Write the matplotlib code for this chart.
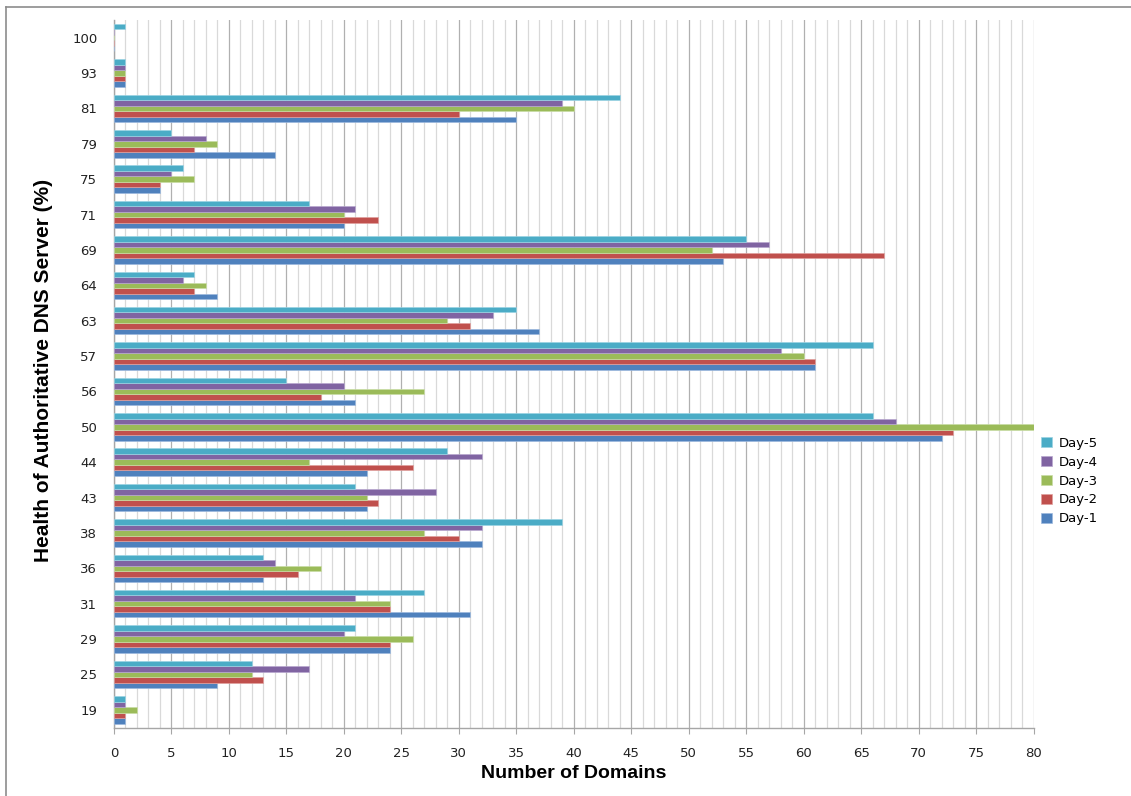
import matplotlib
matplotlib.use("Agg")
import matplotlib.pyplot as plt
import numpy as np
from matplotlib.ticker import MultipleLocator
from matplotlib.lines import Line2D

categories = ["19", "25", "29", "31", "36", "38", "43", "44", "50", "56",
              "57", "63", "64", "69", "71", "75", "79", "81", "93", "100"]
day1 = [1, 9, 24, 31, 13, 32, 22, 22, 72, 21, 61, 37, 9, 53, 20, 4, 14, 35, 1, 0]
day2 = [1, 13, 24, 24, 16, 30, 23, 26, 73, 18, 61, 31, 7, 67, 23, 4, 7, 30, 1, 0]
day3 = [2, 12, 26, 24, 18, 27, 22, 17, 80, 27, 60, 29, 8, 52, 20, 7, 9, 40, 1, 0]
day4 = [1, 17, 20, 21, 14, 32, 28, 32, 68, 20, 58, 33, 6, 57, 21, 5, 8, 39, 1, 0]
day5 = [1, 12, 21, 27, 13, 39, 21, 29, 66, 15, 66, 35, 7, 55, 17, 6, 5, 44, 1, 1]
series_names = ["Day-1", "Day-2", "Day-3", "Day-4", "Day-5"]
series = [day1, day2, day3, day4, day5]
colors = ["#4F81BD", "#C0504D", "#9BBB59", "#8064A2", "#4BACC6"]
edges = ["#9DB9DE", "#E0A09E", "#C9DDA6", "#B8A7CF", "#9BD3E3"]

W, H = 1131, 796
fig = plt.figure(figsize=(W / 100, H / 100), dpi=100)
ax = fig.add_axes([114 / W, 1 - 727.5 / H, (1033.5 - 114) / W, (727.5 - 20) / H])

y = np.arange(len(categories))
bh = 0.155
handles = []
for i, (name, vals, c, ec) in enumerate(zip(series_names, series, colors, edges)):
    offs = (i - 2) * bh
    b = ax.barh(y + offs, vals, height=bh, color=c, edgecolor=ec, linewidth=0.5,
                label=name, zorder=3)
    handles.append(b)

ax.set_xlim(0, 80)
ax.set_ylim(-0.5, len(categories) - 0.5)
ax.set_yticks(y)
ax.set_yticklabels(categories)
ax.xaxis.set_major_locator(MultipleLocator(5))
ax.xaxis.set_minor_locator(MultipleLocator(1))
ax.grid(axis="x", which="minor", color="#D9D9D9", linewidth=0.9, zorder=0)
ax.grid(axis="x", which="major", color="#B0B0B0", linewidth=0.9, zorder=0)
ax.set_axisbelow(True)

for s in ["top", "right"]:
    ax.spines[s].set_visible(False)
for s in ["left", "bottom"]:
    ax.spines[s].set_color("#A6A6A6")
    ax.spines[s].set_linewidth(1.0)

ax.tick_params(axis="y", length=0, pad=12, labelsize=9.5, labelcolor="#222222")
ax.tick_params(axis="x", which="major", length=4, color="#A6A6A6", pad=10,
               labelsize=9.5, labelcolor="#222222")
ax.tick_params(axis="x", which="minor", length=0)

fam = ["Liberation Sans Narrow", "Liberation Sans", "DejaVu Sans"]
fig.text(574 / W, 1 - 773 / H, "Number of Domains", ha="center", va="center",
         fontsize=14, fontweight="bold", family=fam)
fig.text(44 / W, 1 - 370 / H, "Health of Authoritative DNS Server (%)", ha="center",
         va="center", rotation=90, fontsize=15, fontweight="bold", family=fam)

leg = ax.legend(handles=handles[::-1], labels=series_names[::-1],
                loc="center left", bbox_to_anchor=(1036 / W, 1 - 481 / H),
                bbox_transform=fig.transFigure, frameon=False, fontsize=9.5,
                handlelength=0.8, handleheight=0.8, labelspacing=0.45,
                handletextpad=0.5, borderaxespad=0)

# outer chart frame (top and left edges visible)
fig.add_artist(Line2D([6 / W, 6 / W], [0, 1 - 7 / H], transform=fig.transFigure,
                      color="#8C8C8C", linewidth=1.2))
fig.add_artist(Line2D([6 / W, 1], [1 - 7 / H, 1 - 7 / H], transform=fig.transFigure,
                      color="#8C8C8C", linewidth=1.2))

fig.savefig("out.png", dpi=100, facecolor="white")
